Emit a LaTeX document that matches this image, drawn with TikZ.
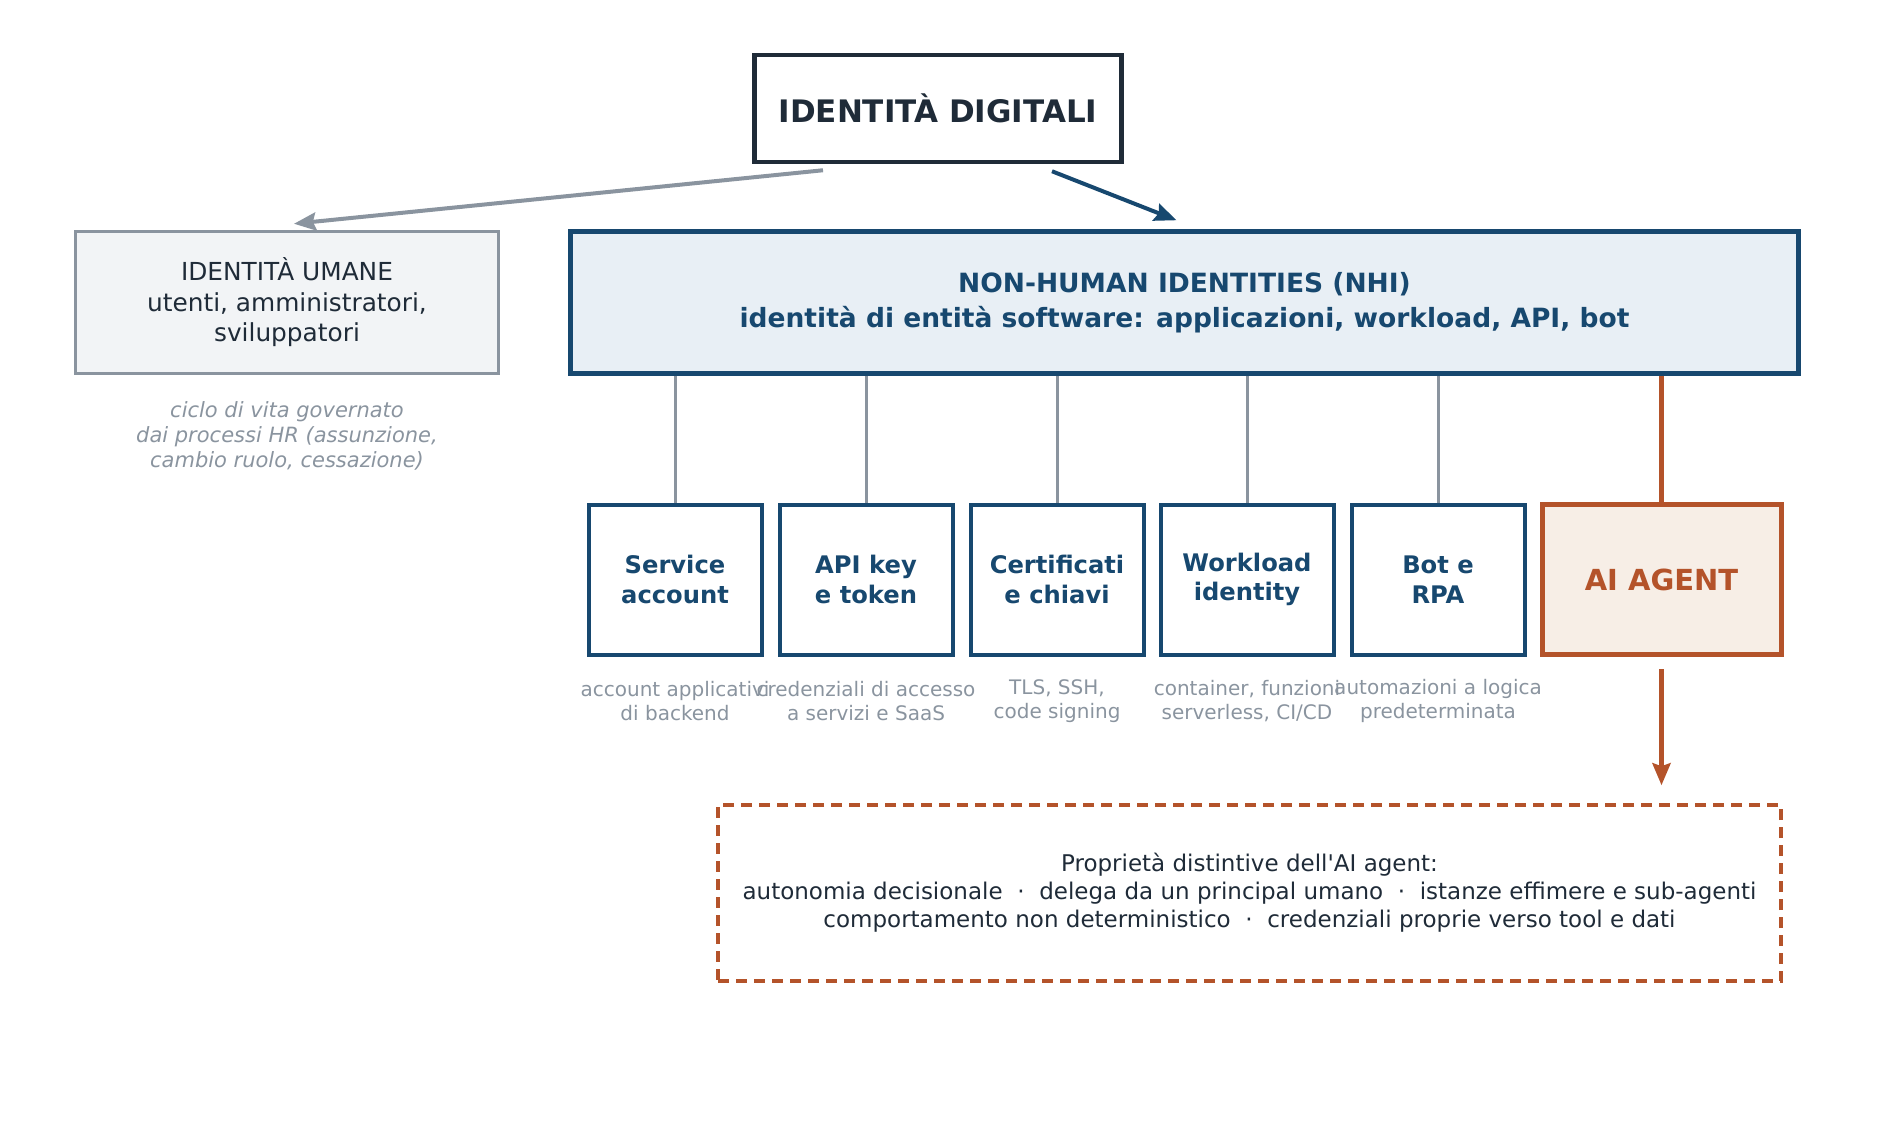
\documentclass[tikz,border=0pt]{standalone}
\usepackage{fontspec}
\setmainfont{DejaVu Sans}
\usetikzlibrary{arrows.meta,positioning}

\definecolor{inkDark}{HTML}{1F2B38}
\definecolor{nhiBlue}{HTML}{17486F}
\definecolor{nhiFill}{HTML}{E8EFF5}
\definecolor{humanGray}{HTML}{8A949F}
\definecolor{humanFill}{HTML}{F2F4F6}
\definecolor{agentOrange}{HTML}{B4532A}
\definecolor{agentFill}{HTML}{F7EEE6}

\begin{document}
\begin{tikzpicture}
[x=1pt,y=-1pt,
  titleDecorate/.style={draw=inkDark,line width=4.5pt,text=inkDark,minimum width=367pt,minimum height=107pt,font=\fontsize{31}{37}\selectfont\bfseries},%
  humanDecorate/.style={draw=humanGray,fill=humanFill,line width=3.5pt,text=inkDark,minimum width=423pt,minimum height=142pt,align=center,font=\fontsize{24.8}{30.5}\selectfont},%
  nhiDecorate/.style={draw=nhiBlue,fill=nhiFill,line width=4.5pt,text=nhiBlue,minimum width=1228pt,minimum height=142pt,align=center,font=\fontsize{26.5}{35}\selectfont\bfseries},%
  typeDecorate/.style={draw=nhiBlue,fill=white,line width=4pt,text=nhiBlue,minimum width=173pt,minimum height=150pt,align=center,font=\fontsize{24.2}{29.5}\selectfont\bfseries},%
  agentDecorate/.style={draw=agentOrange,fill=agentFill,line width=5pt,text=agentOrange,minimum width=239pt,minimum height=150pt,font=\fontsize{29}{35}\selectfont\bfseries},%
  noteDecorate/.style={text=humanGray,align=center,font=\fontsize{20}{24}\selectfont},%
  propDecorate/.style={draw=agentOrange,line width=3.5pt,dash pattern=on 11pt off 7pt,text=inkDark,minimum width=1063pt,minimum height=176pt,align=center,font=\fontsize{23}{28}\selectfont},%
  lineDecorate/.style={-,draw=humanGray,line width=3pt},%
  arrowDecorate/.style={-{Stealth[length=22pt,width=18pt,inset=3pt]},line width=4pt}]
\useasboundingbox (0,0) rectangle (1883,1141);
%% nodes or vertices
\node (digitali) at (938,108.5) [titleDecorate] {IDENTITÀ DIGITALI};
\node (umane) at (287,302.5) [humanDecorate] {IDENTITÀ UMANE\\utenti, amministratori,\\sviluppatori};
\node (umaneNote) at (287,436) [noteDecorate,font=\fontsize{21}{25}\selectfont\itshape] {ciclo di vita governato\\dai processi HR (assunzione,\\cambio ruolo, cessazione)};
\node (nhi) at (1184.5,302.5) [nhiDecorate] {NON-HUMAN IDENTITIES (NHI)\\identità di entità software: applicazioni, workload, API, bot};
\foreach \nodename/\x/\label/\note in {svc/675/{Service\\account}/{account applicativi\\di backend},
  api/866/{API key\\e token}/{credenziali di accesso\\a servizi e SaaS},
  cert/1057/{Certificati\\e chiavi}/{TLS, SSH,\\code signing},
  wkl/1247/{Workload\\identity}/{container, funzioni\\serverless, CI/CD},
  bot/1438/{Bot e\\RPA}/{automazioni a logica\\predeterminata}}
{
  \node (\nodename) at (\x,579.5) [typeDecorate] {\label};
  \node (\nodename Note) at (\x,701) [noteDecorate] {\note};
}
\node (agent) at (1661.5,579.5) [agentDecorate] {AI AGENT};
\node (prop) at (1249.5,893) [propDecorate] {Proprietà distintive dell\textquotesingle AI agent:\\autonomia decisionale\ \ ·\ \ delega da un principal umano\ \ ·\ \ istanze effimere e sub-agenti\\comportamento non deterministico\ \ ·\ \ credenziali proprie verso tool e dati};
%% edges or lines
\path
\foreach \endnode in {svc, api, cert, wkl, bot}
{
  (nhi.south -| \endnode.north) edge[lineDecorate] (\endnode.north)
};
\draw[agentOrange,line width=4.5pt] (nhi.south -| agent.north) -- (agent.north);
\draw[arrowDecorate,humanGray] ([xshift=-115pt,yshift=-6pt]digitali.south) -- ([xshift=7pt,yshift=6pt]umane.north);
\draw[arrowDecorate,nhiBlue] ([xshift=114pt,yshift=-7pt]digitali.south) -- ([xshift=-8pt,yshift=9pt]nhi.north);
\draw[arrowDecorate,agentOrange,line width=4.5pt] ([yshift=-12pt]agent.south) -- ([yshift=18pt]prop.north -| agent.south);
\end{tikzpicture}
\end{document}
